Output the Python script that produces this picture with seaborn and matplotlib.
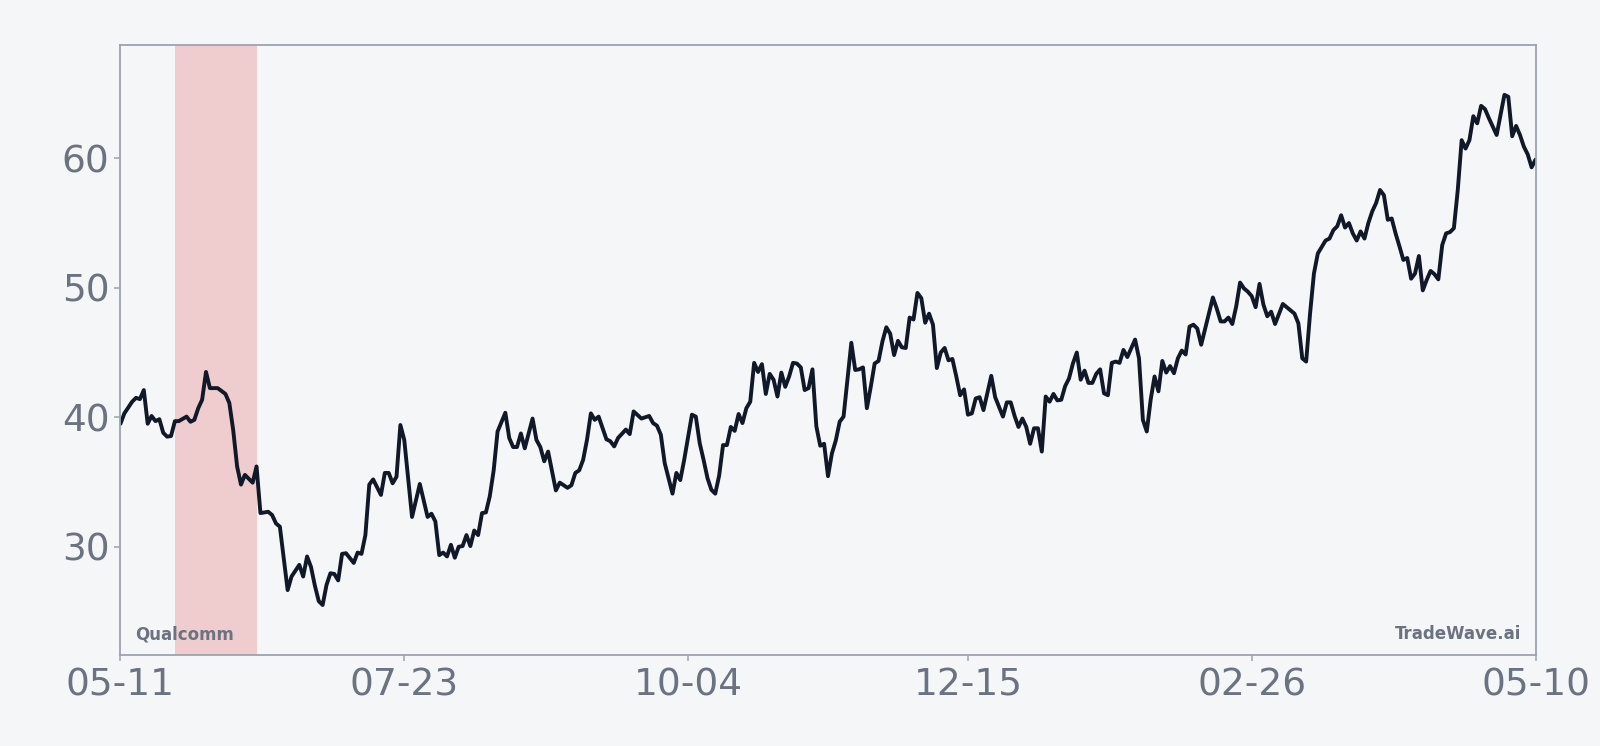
import numpy as np
import pandas as pd
import seaborn as sns
import matplotlib.pyplot as plt
import matplotlib.dates as mdates

# data (day offset from start, price)
start = "2022-05-11"
days = [0, 1, 3, 4, 5, 6, 7, 8, 9, 10, 11, 12, 13, 14, 15, 17, 18, 19, 20, 21,
        22, 23, 25, 27, 28, 29, 30, 31, 32, 34, 35, 36, 38, 39, 40, 41, 43, 44, 46, 47,
        48, 49, 50, 51, 52, 53, 54, 55, 56, 57, 58, 60, 61, 62, 63, 64, 65, 67, 68, 69,
        70, 71, 72, 73, 75, 77, 79, 80, 81, 82, 83, 84, 85, 86, 87, 88, 89, 90, 91, 92,
        93, 94, 95, 96, 97, 99, 100, 101, 102, 103, 104, 106, 107, 108, 109, 110, 112, 113, 115, 116,
        117, 118, 119, 120, 121, 122, 123, 125, 126, 127, 128, 130, 131, 132, 134, 136, 137, 138, 139, 140,
        142, 143, 144, 145, 147, 148, 149, 150, 151, 152, 153, 154, 155, 156, 157, 158, 159, 160, 161, 162,
        163, 164, 165, 166, 167, 168, 169, 170, 171, 172, 173, 174, 175, 176, 177, 178, 179, 180, 181, 182,
        183, 184, 185, 186, 187, 188, 189, 190, 191, 192, 193, 194, 195, 196, 197, 198, 199, 200, 201, 202,
        203, 204, 205, 206, 207, 208, 209, 210, 211, 212, 213, 214, 215, 216, 217, 218, 219, 220, 221, 222,
        224, 225, 227, 228, 229, 230, 231, 232, 233, 234, 235, 236, 237, 238, 239, 240, 241, 242, 243, 244,
        245, 246, 247, 248, 249, 250, 251, 252, 253, 254, 255, 256, 257, 258, 259, 261, 262, 263, 264, 265,
        266, 267, 268, 269, 270, 271, 272, 273, 274, 275, 276, 277, 278, 280, 281, 282, 283, 284, 285, 286,
        287, 288, 289, 290, 291, 292, 293, 294, 295, 296, 297, 299, 300, 302, 303, 304, 305, 306, 307, 308,
        309, 310, 311, 312, 313, 314, 315, 316, 317, 318, 319, 320, 321, 322, 323, 324, 325, 326, 327, 328,
        329, 330, 331, 332, 333, 334, 335, 336, 337, 338, 339, 340, 341, 342, 343, 344, 345, 346, 347, 348,
        349, 350, 351, 352, 354, 355, 356, 357, 358, 359, 360, 361, 362, 363, 364]
price = [39.5, 40.3, 41.2, 41.5, 41.4, 42.1, 39.5, 40.1, 39.7, 39.85, 38.8, 38.5, 38.55, 39.7, 39.7, 40.05, 39.65, 39.8, 40.7, 41.35,
         43.5, 42.25, 42.25, 41.8, 41.1, 39.0, 36.2, 34.8, 35.55, 34.95, 36.2, 32.6, 32.7, 32.45, 31.8, 31.55, 26.65, 27.7, 28.6, 27.7,
         29.25, 28.45, 27.0, 25.8, 25.5, 27.05, 27.95, 27.9, 27.4, 29.45, 29.5, 28.75, 29.55, 29.45, 30.9, 34.8, 35.2, 34.0, 35.7, 35.7,
         34.9, 35.4, 39.4, 38.25, 32.3, 34.85, 32.3, 32.55, 31.95, 29.35, 29.55, 29.25, 30.15, 29.15, 30.0, 30.05, 30.9, 30.05, 31.25, 30.9,
         32.6, 32.65, 33.9, 35.9, 38.9, 40.35, 38.4, 37.7, 37.7, 38.75, 37.6, 39.9, 38.25, 37.7, 36.6, 37.35, 34.35, 34.95, 34.55, 34.75,
         35.7, 35.9, 36.7, 38.25, 40.3, 39.8, 40.05, 38.3, 38.15, 37.75, 38.4, 39.05, 38.7, 40.45, 39.9, 40.1, 39.55, 39.35, 38.65, 36.45,
         34.1, 35.7, 35.15, 36.7, 40.2, 40.05, 38.0, 36.7, 35.3, 34.4, 34.1, 35.5, 37.85, 37.85, 39.25, 38.95, 40.25, 39.55, 40.7, 41.2,
         44.2, 43.5, 44.1, 41.8, 43.35, 42.9, 41.6, 43.45, 42.35, 43.15, 44.2, 44.15, 43.85, 42.1, 42.25, 43.7, 39.3, 37.8, 37.95, 35.45,
         37.2, 38.2, 39.65, 40.05, 42.9, 45.75, 43.65, 43.7, 43.85, 40.7, 42.35, 44.15, 44.35, 45.85, 46.95, 46.45, 44.8, 45.9, 45.4, 45.35,
         47.7, 47.55, 49.6, 49.2, 47.3, 48.0, 47.15, 43.8, 45.0, 45.35, 44.4, 44.5, 43.15, 41.7, 42.15, 40.2, 40.3, 41.45, 41.55, 40.55,
         43.2, 41.55, 40.05, 41.15, 41.15, 40.1, 39.25, 39.9, 39.25, 37.95, 39.15, 39.15, 37.35, 41.6, 41.2, 41.8, 41.3, 41.35, 42.4, 43.0,
         44.15, 45.0, 42.9, 43.6, 42.65, 42.65, 43.35, 43.7, 41.85, 41.7, 44.2, 44.3, 44.2, 45.2, 44.65, 46.0, 44.55, 39.8, 38.9, 41.35,
         43.15, 42.0, 44.35, 43.45, 43.95, 43.4, 44.55, 45.15, 44.85, 47.0, 47.15, 46.85, 45.6, 48.05, 49.25, 48.4, 47.4, 47.4, 47.7, 47.2,
         48.55, 50.4, 49.95, 49.7, 49.35, 48.5, 50.3, 48.7, 47.8, 48.15, 47.2, 48.75, 48.5, 48.0, 47.25, 44.55, 44.3, 48.0, 51.1, 52.65,
         53.15, 53.65, 53.8, 54.45, 54.75, 55.6, 54.65, 55.0, 54.2, 53.65, 54.35, 53.8, 55.0, 55.9, 56.55, 57.55, 57.15, 55.25, 55.35, 54.2,
         53.2, 52.15, 52.3, 50.7, 51.1, 52.45, 49.8, 50.6, 51.3, 51.05, 50.65, 53.3, 54.2, 54.3, 54.6, 57.55, 61.4, 60.75, 61.4, 63.25,
         62.7, 64.05, 63.8, 63.1, 61.8, 63.35, 64.9, 64.75, 61.7, 62.5, 61.8, 60.9, 60.3, 59.3, 59.9]

shade_start, shade_end = "2022-05-25", "2022-06-15"
tick_dates = ["2022-05-11", "2022-07-23", "2022-10-04", "2022-12-15", "2023-02-26", "2023-05-10"]
y_ticks = [30, 40, 50, 60]

bg = "#f4f6f8"
gray = "#6b7280"
edge = "#9ca3af"

sns.set_theme(style="white")
plt.rcParams["font.family"] = ["DejaVu Sans"]

df = pd.DataFrame({
    "date": pd.Timestamp(start) + pd.to_timedelta(days, unit="D"),
    "price": price,
})

fig = plt.figure(figsize=(16, 7.46), dpi=100, facecolor=bg)
ax = fig.add_axes([0.0753, 0.122, 0.8844, 0.8177])
ax.set_facecolor(bg)

ax.axvspan(pd.Timestamp(shade_start), pd.Timestamp(shade_end), color="#dc2626", alpha=0.2, lw=0)
sns.lineplot(data=df, x="date", y="price", ax=ax, color="#111827", linewidth=2.8)

ax.set_xlim(pd.Timestamp(tick_dates[0]), pd.Timestamp(tick_dates[-1]))
ax.set_ylim(21.64, 68.75)
ax.set_xticks(pd.to_datetime(tick_dates))
ax.xaxis.set_major_formatter(mdates.DateFormatter("%m-%d"))
ax.set_yticks(y_ticks)
ax.set_xlabel("")
ax.set_ylabel("")

for s in ax.spines.values():
    s.set_color(edge)
    s.set_linewidth(1.3)
ax.tick_params(axis="both", colors=edge, labelcolor=gray, labelsize=27, length=4, width=1.1)
ax.tick_params(axis="x", bottom=True, pad=5)
ax.tick_params(axis="y", left=True, pad=4)

ax.text(0.010, 0.033, "Qualcomm", transform=ax.transAxes, ha="left", va="center",
        fontsize=12, fontweight="bold", color=gray)
ax.text(0.990, 0.035, "TradeWave.ai", transform=ax.transAxes, ha="right", va="center",
        fontsize=12, fontweight="bold", color=gray)

fig.savefig("out.png", dpi=100, facecolor=bg)
